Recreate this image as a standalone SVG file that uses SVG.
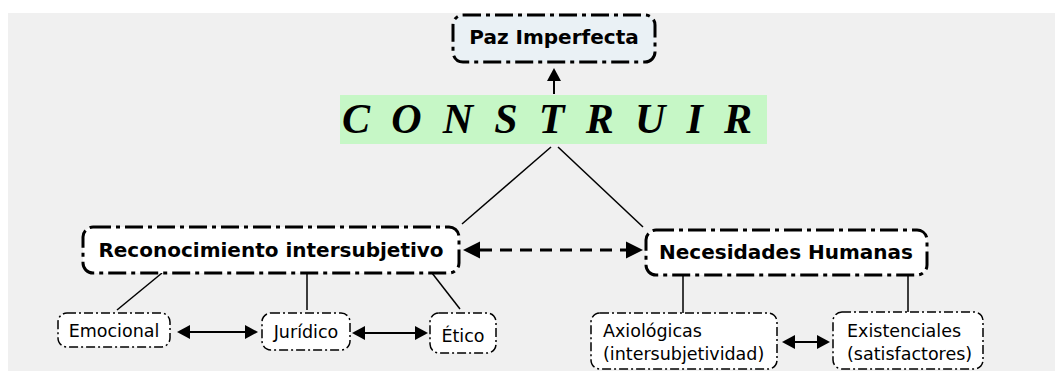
<svg xmlns="http://www.w3.org/2000/svg" width="1055" height="371" viewBox="0 0 1055 371">
<defs>
<style>
.big{fill:#fff;stroke:#000;stroke-width:3;stroke-dasharray:18 5 4 5;}
.small{fill:#fff;stroke:#000;stroke-width:1.5;stroke-dasharray:9 3 2 3;}
.bt{font-family:"DejaVu Sans",Verdana,sans-serif;font-weight:bold;font-size:20px;fill:#000;text-anchor:middle;}
.st{font-family:"DejaVu Sans",Verdana,sans-serif;font-size:17.5px;fill:#000;}
.ln{stroke:#000;stroke-width:1.5;fill:none;}
.ar{stroke:#000;stroke-width:2;fill:none;}
.da{stroke:#000;stroke-width:3;fill:none;stroke-dasharray:12 8;}
</style>
<marker id="hb" markerUnits="userSpaceOnUse" markerWidth="18" markerHeight="18" refX="0" refY="8.5" orient="auto-start-reverse" viewBox="0 0 18 17">
<path d="M0,0 L17,8.5 L0,17 z" fill="#000"/>
</marker>
<marker id="hs" markerUnits="userSpaceOnUse" markerWidth="13" markerHeight="14" refX="0" refY="7" orient="auto-start-reverse" viewBox="0 0 13 14">
<path d="M0,0 L13,7 L0,14 z" fill="#000"/>
</marker>
</defs>
<rect x="8" y="13" width="1047" height="358" fill="#f0f0f0"/>

<g id="connectors">
<line class="ar" x1="554" y1="94" x2="554" y2="81" marker-end="url(#hs)"/>
<line class="ln" x1="551" y1="147" x2="462" y2="224"/>
<line class="ln" x1="558" y1="147" x2="643" y2="227"/>
<line class="da" x1="480" y1="250" x2="626" y2="250" marker-start="url(#hb)" marker-end="url(#hb)"/>
<line class="ln" x1="162" y1="273" x2="117" y2="310"/>
<line class="ln" x1="307" y1="273" x2="307" y2="310"/>
<line class="ln" x1="432" y1="273" x2="460" y2="309"/>
<line class="ln" x1="683" y1="275" x2="683" y2="313"/>
<line class="ln" x1="908" y1="275" x2="908" y2="312"/>
<line class="ar" x1="190" y1="332" x2="245" y2="332" marker-start="url(#hs)" marker-end="url(#hs)"/>
<line class="ar" x1="365" y1="333" x2="415" y2="333" marker-start="url(#hs)" marker-end="url(#hs)"/>
<line class="ar" x1="795" y1="342" x2="817" y2="342" marker-start="url(#hs)" marker-end="url(#hs)"/>
</g>

<g id="paz">
<rect x="453" y="15" width="202" height="47" rx="10" class="big" style="fill:#eaf1f5"/>
<text x="554" y="44" class="bt">Paz Imperfecta</text>
</g>

<g id="construir">
<rect x="340" y="95" width="427" height="49" fill="#c6f7c6"/>
<text x="342" y="133" font-family="'Liberation Serif','Times New Roman',serif" font-style="italic" font-weight="bold" font-size="42" textLength="410" lengthAdjust="spacing" fill="#000">C O N S T R U I R</text>
</g>

<g id="reconocimiento">
<rect x="83" y="227" width="376" height="46" rx="10" class="big"/>
<text x="271" y="257" class="bt">Reconocimiento intersubjetivo</text>
</g>

<g id="necesidades">
<rect x="646" y="230" width="281" height="45" rx="10" class="big"/>
<text x="786" y="259" class="bt">Necesidades Humanas</text>
</g>

<g id="emocional">
<rect x="58" y="313" width="112" height="34" rx="9" class="small"/>
<text x="114" y="337" class="st" text-anchor="middle">Emocional</text>
</g>

<g id="juridico">
<rect x="262" y="313" width="88" height="37" rx="9" class="small"/>
<text x="306" y="338" class="st" text-anchor="middle">Jurídico</text>
</g>

<g id="etico">
<rect x="430" y="313" width="66" height="40" rx="9" class="small"/>
<text x="463" y="342" class="st" text-anchor="middle">Ético</text>
</g>

<g id="axiologicas">
<rect x="591" y="313" width="186" height="56" rx="9" class="small"/>
<text x="603" y="337" class="st">Axiológicas</text>
<text x="603" y="360" class="st">(intersubjetividad)</text>
</g>

<g id="existenciales">
<rect x="833" y="312" width="150" height="57" rx="9" class="small"/>
<text x="847" y="337" class="st">Existenciales</text>
<text x="847" y="360" class="st">(satisfactores)</text>
</g>
</svg>
